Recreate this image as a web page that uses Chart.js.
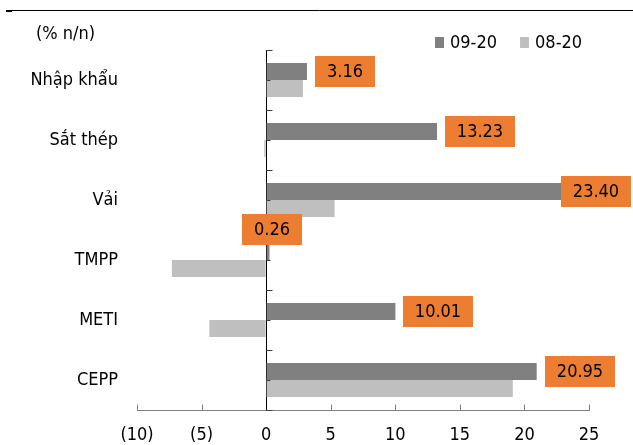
<!DOCTYPE html>
<html>
<head>
<meta charset="utf-8">
<script src="https://cdn.jsdelivr.net/npm/chart.js@4/dist/chart.umd.min.js"></script>
<style>
  html, body { margin: 0; padding: 0; background: #ffffff; }
  canvas { display: block; }
</style>
</head>
<body>
<canvas id="chart" width="633" height="445"></canvas>
<script>
// Tăng trưởng sản xuất (% n/n)
const categories = ['Nhập khẩu', 'Sắt thép', 'Vải', 'TMPP', 'METI', 'CEPP'];
const seriesNames = ['09-20', '08-20'];
const values0920 = [3.16, 13.23, 23.40, 0.26, 10.01, 20.95];
const values0820 = [2.85, -0.15, 5.3, -7.3, -4.4, 19.1];
const xTickMin = -10;
const xTickMax = 25;
const xTickStep = 5;
const unitLabel = '(% n/n)';

const FONT = "'DejaVu Sans Condensed', 'DejaVu Sans', sans-serif";
const DARK = '#808080';
const LIGHT = '#BFBFBF';
const ORANGE = '#ED7D31';

function fmtTick(v) {
  return v < 0 ? '(' + (-v) + ')' : String(v);
}

// Axis tick marks, unit label, legend and the top rule
const decorations = {
  id: 'decorations',
  afterDraw(chart) {
    const ctx = chart.ctx;
    const x = chart.scales.x;
    const y = chart.scales.y;
    const area = chart.chartArea;
    const x0 = Math.round(x.getPixelForValue(0)) + 0.5;
    ctx.save();

    // top rule
    ctx.strokeStyle = '#000';
    ctx.lineWidth = 1;
    ctx.beginPath();
    ctx.moveTo(6, 10.5);
    ctx.lineTo(chart.width, 10.5);
    ctx.stroke();
    ctx.fillStyle = '#000';
    ctx.fillRect(6, 10, 6, 2);

    // x ticks pointing up from the axis
    const yb = Math.round(area.bottom) + 0.5;
    x.ticks.forEach(t => {
      const px = Math.round(x.getPixelForValue(t.value)) + 0.5;
      ctx.strokeStyle = t.value === 0 ? '#000' : '#7f7f7f';
      ctx.beginPath();
      ctx.moveTo(px, yb);
      ctx.lineTo(px, yb - 6);
      ctx.stroke();
    });

    // y ticks pointing right from the zero line, at band edges and centres
    const band = y.getPixelForValue(1) - y.getPixelForValue(0);
    ctx.strokeStyle = '#404040';
    for (let i = 0; i < categories.length; i++) {
      const c = y.getPixelForValue(i);
      const marks = [[c - band / 2, 6], [c, 4]];
      if (i === categories.length - 1) marks.push([c + band / 2, 6]);
      marks.forEach(([py, len]) => {
        const yy = Math.round(py) + 0.5;
        ctx.beginPath();
        ctx.moveTo(x0, yy);
        ctx.lineTo(x0 + len, yy);
        ctx.stroke();
      });
    }

    // unit label
    ctx.fillStyle = '#000';
    ctx.font = '18px ' + FONT;
    ctx.textBaseline = 'middle';
    ctx.textAlign = 'left';
    ctx.fillText(unitLabel, 36, 34);

    // legend
    let lx = 435;
    chart.data.datasets.forEach((ds, i) => {
      ctx.fillStyle = ds.backgroundColor;
      ctx.fillRect(lx, 37, 9, 11);
      ctx.fillStyle = '#000';
      ctx.fillText(ds.label, lx + 15, 43);
      lx += 15 + ctx.measureText(ds.label).width + 23;
    });
    ctx.restore();
  }
};

// Orange value boxes for the 09-20 series, drawn over everything else
const valueBoxes = {
  id: 'valueBoxes',
  afterDraw(chart) {
    const ctx = chart.ctx;
    const meta = chart.getDatasetMeta(0);
    const data = chart.data.datasets[0].data;
    ctx.save();
    ctx.font = '18px ' + FONT;
    ctx.textAlign = 'center';
    ctx.textBaseline = 'middle';
    meta.data.forEach((bar, i) => {
      const v = data[i];
      const text = v.toFixed(2);
      const w = Math.round(ctx.measureText(text).width) + 24;
      const h = 31;
      let bx, by;
      if (Math.abs(v) < 1) {
        bx = bar.x - w / 2 + 2;
        by = bar.y - bar.height / 2 + 2 - h;
      } else {
        bx = bar.x + 8;
        by = bar.y - h / 2;
        if (bx + w > chart.width - 2) bx = chart.width - 2 - w;
      }
      bx = Math.round(bx);
      by = Math.round(by);
      ctx.fillStyle = ORANGE;
      ctx.fillRect(bx, by, w, h);
      ctx.fillStyle = '#000';
      ctx.fillText(text, bx + w / 2, by + h / 2 + 1);
    });
    ctx.restore();
  }
};

new Chart(document.getElementById('chart'), {
  type: 'bar',
  data: {
    labels: categories,
    datasets: [
      { label: seriesNames[0], data: values0920, backgroundColor: DARK },
      { label: seriesNames[1], data: values0820, backgroundColor: LIGHT }
    ]
  },
  options: {
    indexAxis: 'y',
    responsive: false,
    animation: false,
    devicePixelRatio: 1,
    layout: { padding: { top: 50, right: 44, bottom: 0, left: 0 } },
    datasets: { bar: { categoryPercentage: 0.567, barPercentage: 1.0 } },
    plugins: {
      legend: { display: false },
      tooltip: { enabled: false },
      title: { display: false }
    },
    scales: {
      x: {
        min: xTickMin,
        max: xTickMax,
        ticks: {
          stepSize: xTickStep,
          callback: v => fmtTick(v),
          color: '#000',
          font: { family: FONT, size: 18 },
          padding: 15,
          maxRotation: 0
        },
        grid: {
          drawTicks: false,
          color: c => (c.tick && c.tick.value === 0 ? '#000' : 'rgba(0,0,0,0)'),
          lineWidth: 1
        },
        border: { display: true, color: '#7f7f7f', width: 1 },
        afterFit: s => { s.height = 35; }
      },
      y: {
        ticks: {
          color: '#000',
          font: { family: FONT, size: 18 },
          padding: 19
        },
        grid: { display: false, drawTicks: false },
        border: { display: false },
        afterFit: s => { s.width = 137; }
      }
    }
  },
  plugins: [decorations, valueBoxes]
});
</script>
</body>
</html>
